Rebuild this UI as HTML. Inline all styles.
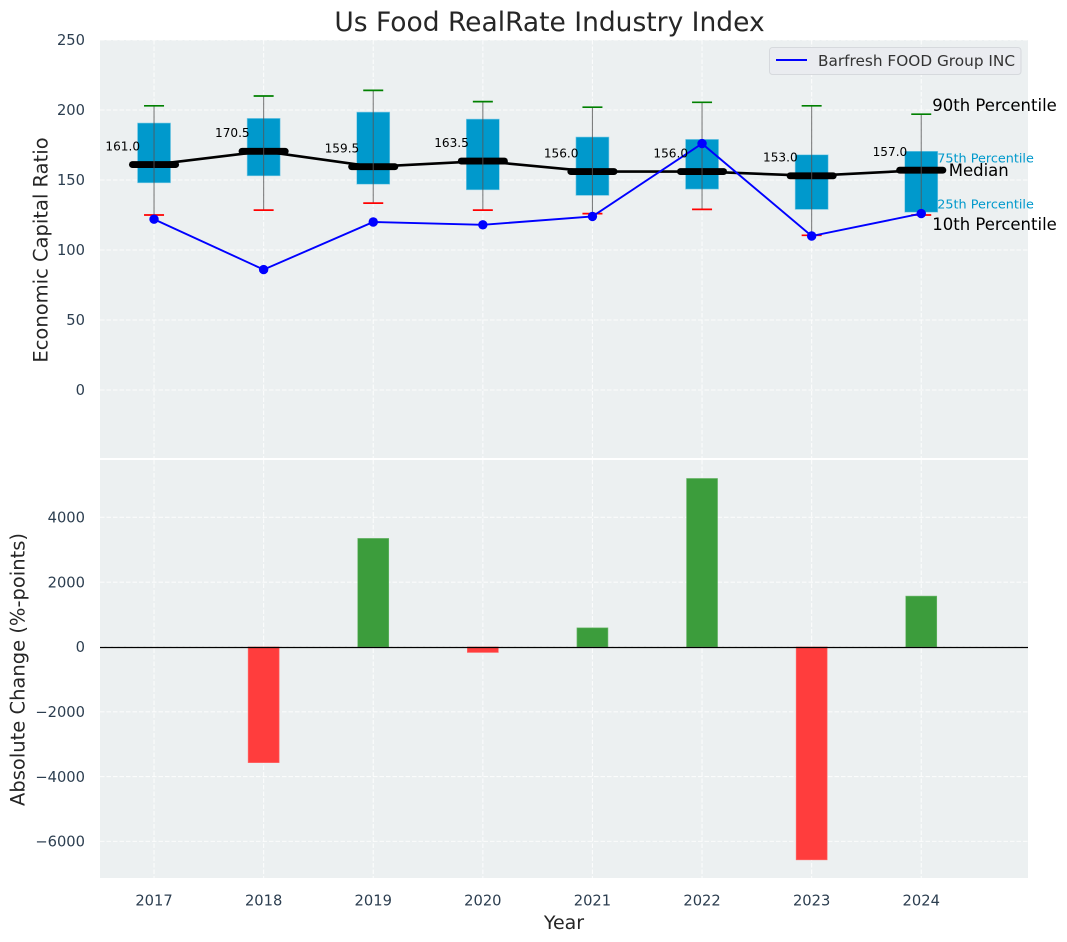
<!DOCTYPE html>
<html lang="en">
<head>
<meta charset="utf-8">
<title>Us Food RealRate Industry Index</title>
<style>
html,body{margin:0;padding:0;background:#fff;width:1067px;height:942px;overflow:hidden}
svg{display:block}
text{font-family:"DejaVu Sans","Liberation Sans",sans-serif}
</style>
</head>
<body>
<svg id="chart" xmlns="http://www.w3.org/2000/svg" width="1067" height="942" viewBox="0 0 1067 942"></svg>
<script>
const years = [2017, 2018, 2019, 2020, 2021, 2022, 2023, 2024];
const p90 = [203, 210, 214, 206, 202, 205.5, 203, 197];
const p75 = [190.7, 194, 198.5, 193.5, 180.7, 179, 168, 170.5];
const medians = [161.0, 170.5, 159.5, 163.5, 156.0, 156.0, 153.0, 157.0];
const p25 = [148, 153, 147, 143, 139, 143.5, 129, 127];
const p10 = [125, 128.5, 133.5, 128.5, 126, 129, 110.5, 125];
const company = [122, 86, 120, 118, 124, 176, 110, 126];
const changeYears = [2018, 2019, 2020, 2021, 2022, 2023, 2024];
const changes = [-3570, 3350, -170, 590, 5200, -6570, 1570];
const topTicks = [0, 50, 100, 150, 200, 250];
const bottomTicks = [-6000, -4000, -2000, 0, 2000, 4000];

const NS = 'http://www.w3.org/2000/svg';
const svg = document.getElementById('chart');
const L = 100, R = 1028;
const X0 = 2016.507, X1 = 2024.974;
const T1 = 40, B1 = 458, T2 = 460, B2 = 878;
const Y1MAX = 250, Y1MIN = -48.57;
const Y2MAX = 5770, Y2MIN = -7130;
const x = v => L + (v - X0) / (X1 - X0) * (R - L);
const y1 = v => T1 + (Y1MAX - v) / (Y1MAX - Y1MIN) * (B1 - T1);
const y2 = v => T2 + (Y2MAX - v) / (Y2MAX - Y2MIN) * (B2 - T2);

function make(tag, attrs, parent) {
  const el = document.createElementNS(NS, tag);
  for (const k in attrs) el.setAttribute(k, attrs[k]);
  (parent || svg).appendChild(el);
  return el;
}
function label(str, attrs, parent) {
  const el = make('text', attrs, parent);
  el.textContent = str;
  return el;
}
let el;

// panels
el = make('rect', {x: L, y: T1, width: R - L, height: B1 - T1, fill: '#ecf0f1'});


el = make('rect', {x: L, y: T2, width: R - L, height: B2 - T2, fill: '#ecf0f1'});



// grid
const gridStyle = {stroke: '#ffffff', 'stroke-width': 1.1, 'stroke-dasharray': '4.5 2', 'stroke-opacity': 0.8, fill: 'none'};
years.forEach(yr => {
  el = make('line', {x1: x(yr), x2: x(yr), y1: T1, y2: B1, ...gridStyle});
  
  
  el = make('line', {x1: x(yr), x2: x(yr), y1: T2, y2: B2, ...gridStyle});
  
  
});
topTicks.forEach(t => {
  el = make('line', {x1: L, x2: R, y1: y1(t), y2: y1(t), ...gridStyle});
  
  
});
bottomTicks.forEach(t => {
  el = make('line', {x1: L, x2: R, y1: y2(t), y2: y2(t), ...gridStyle});
  
  
});

// boxes
years.forEach((yr, i) => {
  const cx = x(yr);
  el = make('rect', {x: cx - 16.5, y: y1(p75[i]), width: 33, height: y1(p25[i]) - y1(p75[i]), fill: '#0099cc', stroke: '#7fcbe5', 'stroke-width': 0.6});
  
  
});

// median trend line
el = make('polyline', {points: years.map((yr, i) => x(yr) + ',' + y1(medians[i])).join(' '), fill: 'none', stroke: '#000000', 'stroke-width': 2.6});



// median bars
years.forEach((yr, i) => {
  el = make('line', {x1: x(yr) - 21.6, x2: x(yr) + 21.6, y1: y1(medians[i]), y2: y1(medians[i]), stroke: '#000000', 'stroke-width': 6.9, 'stroke-linecap': 'round'});
  
  
});

// whiskers and caps
years.forEach((yr, i) => {
  const cx = x(yr);
  el = make('line', {x1: cx, x2: cx, y1: y1(p90[i]), y2: y1(p10[i]), stroke: '#555555', 'stroke-width': 1.1, 'stroke-opacity': 0.75});
  
  
  el = make('line', {x1: cx - 10, x2: cx + 10, y1: y1(p90[i]), y2: y1(p90[i]), stroke: '#008000', 'stroke-width': 1.7});
  
  
  el = make('line', {x1: cx - 10, x2: cx + 10, y1: y1(p10[i]), y2: y1(p10[i]), stroke: '#ff0000', 'stroke-width': 1.7});
  
  
});

// company line
el = make('polyline', {points: years.map((yr, i) => x(yr) + ',' + y1(company[i])).join(' '), fill: 'none', stroke: '#0000ff', 'stroke-width': 1.9});


years.forEach((yr, i) => {
  el = make('circle', {cx: x(yr), cy: y1(company[i]), r: 4.7, fill: '#0000ff'});
  
  
});

// median value labels
years.forEach((yr, i) => {
  el = label(medians[i].toFixed(1), {x: x(yr) - 14, y: y1(medians[i]) - 14.2, 'text-anchor': 'end', 'font-size': 12.1, fill: '#000000'});
  
  
});

// percentile annotations for the last year
const last = years.length - 1;
const lx = x(years[last]);
el = label('90th Percentile', {x: lx + 11, y: y1(p90[last]) - 3.2, 'font-size': 16.5, fill: '#000000'});


el = label('75th Percentile', {x: lx + 16, y: y1(p75[last]) + 11.3, 'font-size': 12.8, fill: '#0099cc'});


el = label('Median', {x: lx + 27.5, y: y1(medians[last]) + 5.8, 'font-size': 16.5, fill: '#000000'});


el = label('25th Percentile', {x: lx + 16, y: y1(p25[last]) - 3.7, 'font-size': 12.8, fill: '#0099cc'});


el = label('10th Percentile', {x: lx + 11, y: y1(p10[last]) + 14.8, 'font-size': 16.5, fill: '#000000'});



// change bars
changeYears.forEach((yr, i) => {
  const v = changes[i];
  const top = Math.min(y2(v), y2(0));
  const h = Math.abs(y2(v) - y2(0));
  el = make('rect', {x: x(yr) - 15.5, y: top, width: 31, height: h, fill: v >= 0 ? '#3c9d3c' : '#ff3d3d', stroke: v >= 0 ? '#6cb86c' : '#ff6a6a', 'stroke-width': 0.6});
  
  
});

// zero line
el = make('line', {x1: L, x2: R, y1: 647.5, y2: 647.5, stroke: '#000000', 'stroke-width': 1.2});



// tick labels
const tickColor = '#2c3e50';
topTicks.forEach(t => {
  el = label(String(t), {x: 85, y: y1(t) + 5.2, 'text-anchor': 'end', 'font-size': 14.7, fill: tickColor});
  
  
});
bottomTicks.forEach(t => {
  el = label(String(t).replace('-', '\u2212'), {x: 85, y: y2(t) + 5.2, 'text-anchor': 'end', 'font-size': 14.7, fill: tickColor});
  
  
});
years.forEach(yr => {
  el = label(String(yr), {x: x(yr), y: 905.3, 'text-anchor': 'middle', 'font-size': 14.7, fill: tickColor});
  
  
});

// titles
el = label('Us Food RealRate Industry Index', {x: 549.5, y: 31, 'text-anchor': 'middle', 'font-size': 26.5, fill: '#262626'});


el = label('Year', {x: 564, y: 929, 'text-anchor': 'middle', 'font-size': 19, fill: '#262626'});


el = label('Economic Capital Ratio', {x: 0, y: 0, 'text-anchor': 'middle', 'font-size': 19.5, fill: '#262626', transform: 'translate(47.5 250) rotate(-90)'});


el = label('Absolute Change (%-points)', {x: 0, y: 0, 'text-anchor': 'middle', 'font-size': 19.5, fill: '#262626', transform: 'translate(24.5 669.5) rotate(-90)'});



// legend
el = make('rect', {x: 769.5, y: 47.5, width: 251.5, height: 27, rx: 3, fill: '#eaecf0', stroke: '#d6d9dd', 'stroke-width': 1});


el = make('line', {x1: 776, x2: 807, y1: 60, y2: 60, stroke: '#0000ff', 'stroke-width': 1.9});


el = label('Barfresh FOOD Group INC', {x: 818, y: 66, 'font-size': 15.3, fill: '#333333'});


</script>
</body>
</html>
